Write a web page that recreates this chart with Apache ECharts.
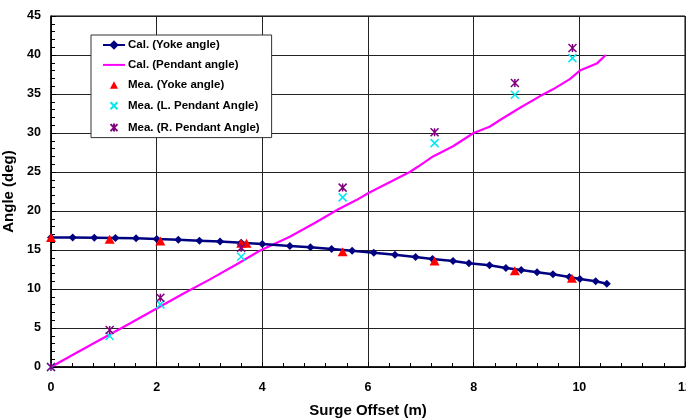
<!DOCTYPE html>
<html>
<head>
<meta charset="utf-8">
<script src="https://cdn.jsdelivr.net/npm/echarts@6/dist/echarts.min.js"></script>
<style>
html,body{margin:0;padding:0;background:#fff;}
#chart{width:686px;height:420px;}
</style>
</head>
<body>
<div id="chart"></div>
<script>
// ---- data ----
const yokeCalX = [0, 0.41, 0.82, 1.22, 1.61, 2.0, 2.41, 2.81, 3.2, 3.6, 4.0, 4.52, 4.91, 5.31, 5.70, 6.11, 6.51, 6.90, 7.22, 7.61, 7.91, 8.30, 8.61, 8.90, 9.20, 9.50, 9.81, 10.01, 10.31, 10.52];
const yokeCalY = [16.6, 16.6, 16.58, 16.55, 16.5, 16.42, 16.3, 16.2, 16.08, 15.92, 15.77, 15.52, 15.34, 15.13, 14.91, 14.66, 14.4, 14.1, 13.85, 13.59, 13.3, 13.04, 12.7, 12.44, 12.14, 11.88, 11.54, 11.28, 10.99, 10.68];

const pendCalX = [0, 0.5, 1.0, 1.5, 2.0, 2.5, 3.0, 3.5, 3.95, 4.52, 5.0, 5.43, 5.78, 6.01, 6.79, 6.95, 7.23, 7.61, 8.0, 8.30, 8.53, 8.87, 9.25, 9.50, 9.82, 10.01, 10.33, 10.50];
const pendCalY = [0, 1.9, 3.75, 5.6, 7.5, 9.4, 11.2, 13.1, 14.9, 16.7, 18.5, 20.2, 21.4, 22.3, 25.0, 25.7, 27.0, 28.3, 30.0, 30.8, 31.8, 33.2, 34.7, 35.6, 36.9, 38.0, 38.9, 40.0];

const yokeMeaX = [0, 1.11, 2.07, 3.60, 3.70, 5.52, 7.26, 8.78, 9.86];
const yokeMeaY = [16.6, 16.37, 16.15, 15.86, 15.86, 14.78, 13.59, 12.35, 11.37];

const pendMeaX = [0, 1.11, 2.07, 3.60, 5.52, 7.26, 8.78, 9.87];
const pendLMeaY = [0, 3.97, 8.03, 14.14, 21.75, 28.7, 34.9, 39.6];
const pendRMeaY = [0, 4.74, 8.89, 15.3, 23.0, 30.1, 36.4, 40.9];

const xTicks = [0, 2, 4, 6, 8, 10, 12];
const yTicks = [0, 5, 10, 15, 20, 25, 30, 35, 40, 45];

const seriesNames = ['Cal. (Yoke angle)', 'Cal. (Pendant angle)', 'Mea. (Yoke angle)', 'Mea. (L. Pendant Angle)', 'Mea. (R. Pendant Angle)'];
const xTitle = 'Surge Offset (m)';
const yTitle = 'Angle (deg)';

// ---- build ----
const zip = (xs, ys) => xs.map((x, i) => [x, ys[i]]);
const FONT = "'Liberation Sans', Arial, sans-serif";

// legend icons drawn in a 22x12 box (corners fixed by the two moveTo points)
const BOX = 'M0 0M22 12';
const iconLine = 'path://' + BOX + 'M0 5H22V7H0Z';
const iconTri = 'path://' + BOX + 'M11 2.5L15 10L7 10Z';
const iconX = 'path://' + BOX + 'M7.5 2.5L14.5 9.5M14.5 2.5L7.5 9.5';
const iconStar = 'path://' + BOX + 'M7.5 2.5L14.5 9.5M14.5 2.5L7.5 9.5M11 2L11 10';

const chart = echarts.init(document.getElementById('chart'), null, {renderer: 'canvas'});
chart.setOption({
  backgroundColor: '#fff',
  animation: false,
  textStyle: {fontFamily: FONT},
  grid: {left: 51, right: 1, top: 16, bottom: 53, containLabel: false, outerBoundsMode: 'none',
         show: true, borderColor: '#000', borderWidth: 1, backgroundColor: '#fff'},
  legend: {
    orient: 'vertical',
    left: 91, top: 35,
    data: [
      {name: seriesNames[0]},
      {name: seriesNames[1], icon: iconLine},
      {name: seriesNames[2], icon: iconTri},
      {name: seriesNames[3], icon: iconX},
      {name: seriesNames[4], icon: iconStar}
    ],
    backgroundColor: '#fff',
    borderColor: '#333', borderWidth: 1,
    padding: [4, 12, 3, 11],
    itemWidth: 22, itemHeight: 12, itemGap: 7.9,
    textStyle: {fontFamily: FONT, fontSize: 11.5, fontWeight: 'bold', color: '#000', padding: [0, 0, 0, -2]}
  },
  xAxis: {
    type: 'value', min: xTicks[0], max: xTicks[xTicks.length - 1], interval: 2,
    name: xTitle, nameLocation: 'middle', nameGap: 36,
    nameTextStyle: {fontFamily: FONT, fontSize: 15, fontWeight: 'bold', color: '#000'},
    axisLine: {show: true, lineStyle: {color: '#000', width: 1.5}},
    axisTick: {show: true, inside: true, length: 5, lineStyle: {color: '#000'}},
    minorTick: {show: true, splitNumber: 5, length: 4, lineStyle: {color: '#000'}},
    splitLine: {show: true, lineStyle: {color: '#222', width: 1}},
    axisLabel: {fontFamily: FONT, fontSize: 12.5, fontWeight: 'bold', color: '#000', margin: 14, showMaxLabel: true, hideOverlap: false}
  },
  yAxis: {
    type: 'value', min: yTicks[0], max: yTicks[yTicks.length - 1], interval: 5,
    name: yTitle, nameLocation: 'middle', nameGap: 30,
    nameTextStyle: {fontFamily: FONT, fontSize: 15, fontWeight: 'bold', color: '#000'},
    axisLine: {show: true, lineStyle: {color: '#000', width: 1.5}},
    axisTick: {show: true, inside: true, length: 5, lineStyle: {color: '#000'}},
    minorTick: {show: true, splitNumber: 5, length: 4, lineStyle: {color: '#000'}},
    splitLine: {show: true, lineStyle: {color: '#222', width: 1}},
    axisLabel: {fontFamily: FONT, fontSize: 12.5, fontWeight: 'bold', color: '#000', margin: 10}
  },
  series: [
    {
      name: seriesNames[1], type: 'line', data: zip(pendCalX, pendCalY),
      showSymbol: false, symbol: 'none', smooth: false, z: 2,
      lineStyle: {color: '#FF00FF', width: 2.2}, itemStyle: {color: '#FF00FF'}
    },
    {
      name: seriesNames[0], type: 'line', data: zip(yokeCalX, yokeCalY),
      symbol: 'diamond', symbolSize: 8, z: 3,
      lineStyle: {color: '#000080', width: 2.5}, itemStyle: {color: '#000080'}
    },
    {
      name: seriesNames[2], type: 'scatter', data: zip(yokeMeaX, yokeMeaY),
      symbol: 'path://M5 0L10 9L0 9Z', symbolSize: [10, 9], z: 4,
      itemStyle: {color: '#FF0000', opacity: 1}
    },
    {
      name: seriesNames[3], type: 'scatter', data: zip(pendMeaX, pendLMeaY),
      symbol: 'path://M0 0L10 10M10 0L0 10', symbolSize: 8, z: 4,
      itemStyle: {color: '#00E8F0', borderColor: '#00E8F0', borderWidth: 1.5, opacity: 1}
    },
    {
      name: seriesNames[4], type: 'scatter', data: zip(pendMeaX, pendRMeaY),
      symbol: 'path://M0 0L10 10M10 0L0 10M5 0L5 10', symbolSize: 8, z: 5,
      itemStyle: {color: '#800080', borderColor: '#800080', borderWidth: 1.5, opacity: 1}
    }
  ]
});
</script>
</body>
</html>
